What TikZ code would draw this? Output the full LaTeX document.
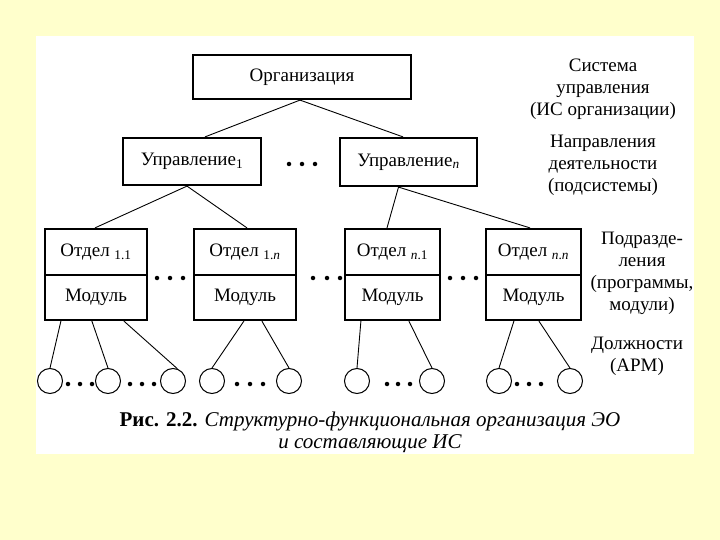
\documentclass[tikz,border=0pt]{standalone}
\usepackage{fontspec}
\setmainfont{Liberation Serif}
\usetikzlibrary{calc}
\definecolor{bgyellow}{RGB}{255,255,204}
\begin{document}
\begin{tikzpicture}[x=1pt,y=-1pt,
  box/.style={draw,line width=2.2pt,inner sep=0pt,font=\fontsize{19}{21}\selectfont},
  link/.style={line width=0.9pt},
  posn/.style={draw,line width=1pt,circle,minimum size=25pt,inner sep=0pt},
  dotf/.style={circle,fill,inner sep=0pt,minimum size=4.5pt},
  lbl/.style={align=center,font=\fontsize{19}{22}\selectfont},
  caplbl/.style={align=center,font=\fontsize{21}{22}\selectfont},
]
\fill[bgyellow] (0,0) rectangle (720,540);
\fill[white] (36,36) rectangle (694,454);
\useasboundingbox (0,0) rectangle (720,540);

% level 1 and 2
\node[box,minimum width=218pt,minimum height=44pt] (org) at (302,77) {Организация};
\node[box,minimum width=138pt,minimum height=47pt] (u1) at (192,161.5) {Управление\textsubscript{1}};
\node[box,minimum width=137pt,minimum height=48pt] (un) at (408.5,162) {Управление\textsubscript{\textit{n}}};

% level 3
\node[box,minimum width=102pt,minimum height=46pt] (d1) at (96,252) {Отдел \textsubscript{1.1}};
\node[box,minimum width=102pt,minimum height=45pt] (m1) at (96,297.5) {Модуль};
\node[box,minimum width=102pt,minimum height=46pt] (d2) at (245,252) {Отдел \textsubscript{1.\textit{n}}};
\node[box,minimum width=102pt,minimum height=45pt] (m2) at (245,297.5) {Модуль};
\node[box,minimum width=95pt,minimum height=46pt] (d3) at (392.5,252) {Отдел \textsubscript{\textit{n}.1}};
\node[box,minimum width=95pt,minimum height=45pt] (m3) at (392.5,297.5) {Модуль};
\node[box,minimum width=95pt,minimum height=46pt] (d4) at (533.5,252) {Отдел \textsubscript{\textit{n}.\textit{n}}};
\node[box,minimum width=95pt,minimum height=45pt] (m4) at (533.5,297.5) {Модуль};

% level 4 circles
\foreach \i/\x in {1/50,2/108,3/173,4/212,5/289,6/357,7/432,8/499,9/570}
  \node[posn] (c\i) at (\x,381) {};

% connectors
\draw[link] ([xshift=-2pt]org.south) -- ([xshift=13pt]u1.north);
\draw[link] ([xshift=-2pt]org.south) -- ([xshift=-5.5pt]un.north);
\draw[link] ([xshift=-5pt]u1.south) -- ([xshift=-1pt]d1.north);
\draw[link] ([xshift=-5pt]u1.south) -- ([xshift=2pt]d2.north);
\draw[link] ([xshift=-10pt]un.south) -- ([xshift=-5.5pt]d3.north);
\draw[link] ([xshift=-10pt]un.south) -- ([xshift=-3.5pt]d4.north);

\draw[link] ([xshift=17pt]m1.south west) -- (c1.north);
\draw[link] ([xshift=48pt]m1.south west) -- (c2.north);
\draw[link] ([xshift=80pt]m1.south west) -- (c3.70);
\draw[link] ([xshift=51pt]m2.south west) -- (c4.north);
\draw[link] ([xshift=69pt]m2.south west) -- (c5.north);
\draw[link] ([xshift=17pt]m3.south west) -- (c6.north);
\draw[link] ([xshift=65pt]m3.south west) -- (c7.north);
\draw[link] ([xshift=29pt]m4.south west) -- (c8.north);
\draw[link] ([xshift=54pt]m4.south west) -- (c9.north);

% ellipses
\foreach \n/\x/\y in {a1/289/164,a2/302/164,a3/315/164,
  b1/157/278,b2/170/278,b3/183/278,
  b4/313/278,b5/327/278,b6/340/278,
  b7/450/278,b8/463/278,b9/476/278,
  e1/68/384,e2/80/384,e3/92/384,
  e4/130/384,e5/142/384,e6/154/384,
  e7/237/384,e8/250/384,e9/263/384,
  e10/387/384,e11/398/384,e12/410/384,
  e13/517/384,e14/529/384,e15/541/384}
  \node[dotf] (\n) at (\x,\y) {};

% side labels
\node[lbl] (l1) at (603,89) {Система\\управления\\(ИС организации)};
\node[lbl] (l2) at (603,165) {Направления\\деятельности\\(подсистемы)};
\node[lbl] (l3) at (642,273) {Подразде-\\ления\\(программы,\\модули)};
\node[lbl] (l4) at (637,356) {Должности\\(АРМ)};

% caption
\node[caplbl] (cap) at (370,432) {\textbf{Рис. 2.2.} \textit{Структурно-функциональная организация ЭО}\\\textit{и составляющие ИС}};
\end{tikzpicture}
\end{document}
